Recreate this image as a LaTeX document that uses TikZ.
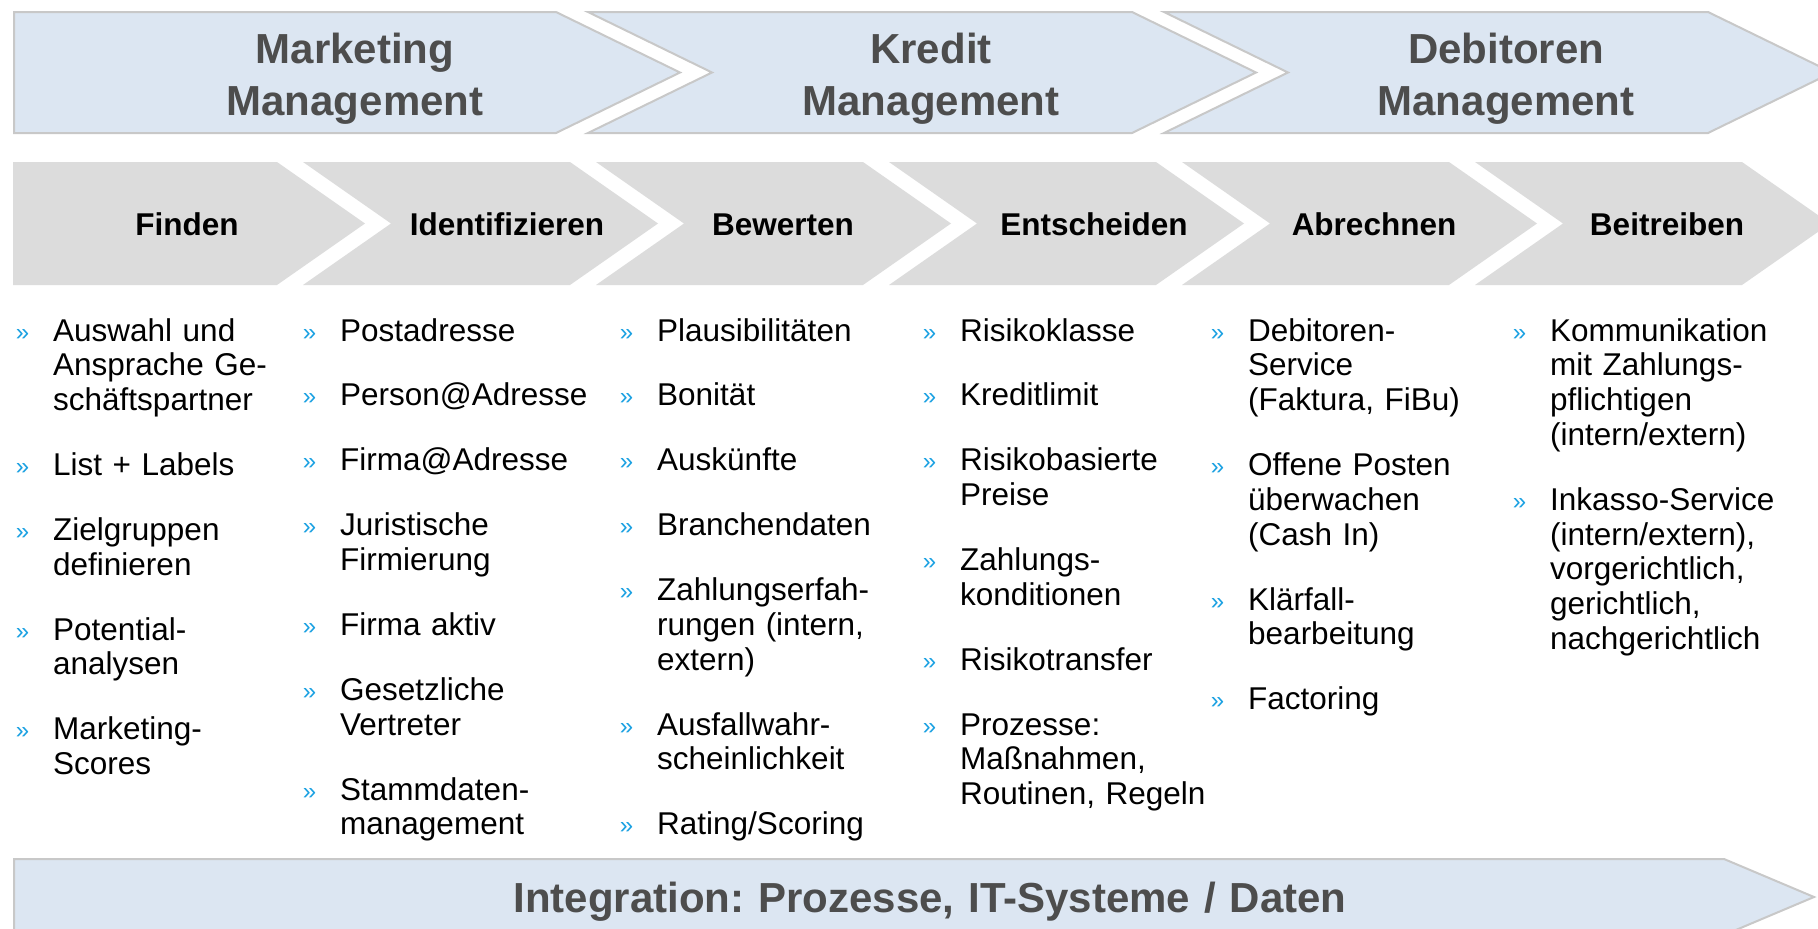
\documentclass[tikz,border=0pt]{standalone}
\usepackage{fontspec}
\setmainfont{Liberation Sans}
\usepackage{xcolor}
\usepackage{tikz}
\frenchspacing

\definecolor{bandblue}{HTML}{DCE6F2}
\definecolor{bandline}{HTML}{C8C8C8}
\definecolor{stepgray}{HTML}{DCDCDC}
\definecolor{titlegray}{HTML}{4D4D4D}
\definecolor{bulletblue}{HTML}{1BA1E2}

% blue bullet in front of each list entry
\newcommand{\bul}{\leavevmode\llap{\textcolor{bulletblue}{\fontsize{24}{24}\selectfont\raisebox{1pt}{»}}\hspace{24pt}}}

\begin{document}
\begin{tikzpicture}[
    x=1pt, y=-1pt,
    band/.style={fill=bandblue, draw=bandline, line width=2pt, line join=miter},
    stepchev/.style={fill=stepgray, draw=none},
    phase/.style={font=\fontsize{42}{52}\selectfont\bfseries, text=titlegray, text width=500pt, align=center, anchor=base, inner sep=0pt},
    stage/.style={font=\fontsize{31.5}{34.8}\selectfont\bfseries, anchor=base, inner sep=0pt},
    itemlist/.style={font=\fontsize{31.5}{34.8}\selectfont, text width=285pt, align=left, anchor=base west, inner sep=0pt}
]
    \useasboundingbox (0,0) rectangle (1818,929);
    \fill[white] (0,0) rectangle (1818,929);
    \clip (0,0) rectangle (1818,929);

    % Management phases
    \filldraw[band] (14,12) -- (556,12) -- (680,72.5) -- (556,133) -- (14,133) -- cycle;
    \filldraw[band] (588,12) -- (1132,12) -- (1256,72.5) -- (1132,133) -- (588,133) -- (712,72.5) -- cycle;
    \filldraw[band] (1164,12) -- (1708,12) -- (1832,72.5) -- (1708,133) -- (1164,133) -- (1288,72.5) -- cycle;

    \node[phase] (mkt) at (355,63.5) {Marketing\\Management};
    \node[phase] (krd) at (931,63.5) {Kredit\\Management};
    \node[phase] (deb) at (1506,63.5) {Debitoren\\Management};

    % Process steps
    \fill[stepchev] (13,162) -- (277,162) -- (365,223.5) -- (277,285) -- (13,285) -- cycle;
    \fill[stepchev] (303,162) -- (570,162) -- (658,223.5) -- (570,285) -- (303,285) -- (391,223.5) -- cycle;
    \fill[stepchev] (596,162) -- (863,162) -- (951,223.5) -- (863,285) -- (596,285) -- (684,223.5) -- cycle;
    \fill[stepchev] (889,162) -- (1156,162) -- (1244,223.5) -- (1156,285) -- (889,285) -- (977,223.5) -- cycle;
    \fill[stepchev] (1182,162) -- (1449,162) -- (1537,223.5) -- (1449,285) -- (1182,285) -- (1270,223.5) -- cycle;
    \fill[stepchev] (1475,162) -- (1742,162) -- (1830,223.5) -- (1742,285) -- (1475,285) -- (1563,223.5) -- cycle;

    \node[stage] (finden) at (187,235) {Finden};
    \node[stage] (ident) at (507,235) {Identifizieren};
    \node[stage] (bewert) at (783,235) {Bewerten};
    \node[stage] (entsch) at (1094,235) {Entscheiden};
    \node[stage] (abrech) at (1374,235) {Abrechnen};
    \node[stage] (beitr) at (1667,235) {Beitreiben};

    % Tasks per step
    \node[itemlist] (lfinden) at (53,341) {\bul Auswahl und\\Ansprache Ge-\\schäftspartner\\[30.1pt]\bul List + Labels\\[30.1pt]\bul Zielgruppen\\definieren\\[30.1pt]\bul Potential-\\analysen\\[30.1pt]\bul Marketing-\\Scores};
    \node[itemlist] (lident) at (340,341) {\bul Postadresse\\[30.1pt]\bul Person@Adresse\\[30.1pt]\bul Firma@Adresse\\[30.1pt]\bul Juristische\\Firmierung\\[30.1pt]\bul Firma aktiv\\[30.1pt]\bul Gesetzliche\\Vertreter\\[30.1pt]\bul Stammdaten-\\management};
    \node[itemlist] (lbewert) at (657,341) {\bul Plausibilitäten\\[30.1pt]\bul Bonität\\[30.1pt]\bul Auskünfte\\[30.1pt]\bul Branchendaten\\[30.1pt]\bul Zahlungserfah-\\rungen (intern,\\extern)\\[30.1pt]\bul Ausfallwahr-\\scheinlichkeit\\[30.1pt]\bul Rating/Scoring};
    \node[itemlist] (lentsch) at (960,341) {\bul Risikoklasse\\[30.1pt]\bul Kreditlimit\\[30.1pt]\bul Risikobasierte\\Preise\\[30.1pt]\bul Zahlungs-\\konditionen\\[30.1pt]\bul Risikotransfer\\[30.1pt]\bul Prozesse:\\Maßnahmen,\\Routinen, Regeln};
    \node[itemlist] (labrech) at (1248,341) {\bul Debitoren-\\Service\\(Faktura, FiBu)\\[30.1pt]\bul Offene Posten\\überwachen\\(Cash In)\\[30.1pt]\bul Klärfall-\\bearbeitung\\[30.1pt]\bul Factoring};
    \node[itemlist] (lbeitr) at (1550,341) {\bul Kommunikation\\mit Zahlungs-\\pflichtigen\\(intern/extern)\\[30.1pt]\bul Inkasso-Service\\(intern/extern),\\vorgerichtlich,\\gerichtlich,\\nachgerichtlich};

    % Integration layer
    \filldraw[band] (14,859) -- (1724,859) -- (1814,897) -- (1724,935) -- (14,935) -- cycle;
    \node[phase, text width=1200pt] (integr) at (930,912) {Integration: Prozesse, IT-Systeme / Daten};
\end{tikzpicture}
\end{document}
